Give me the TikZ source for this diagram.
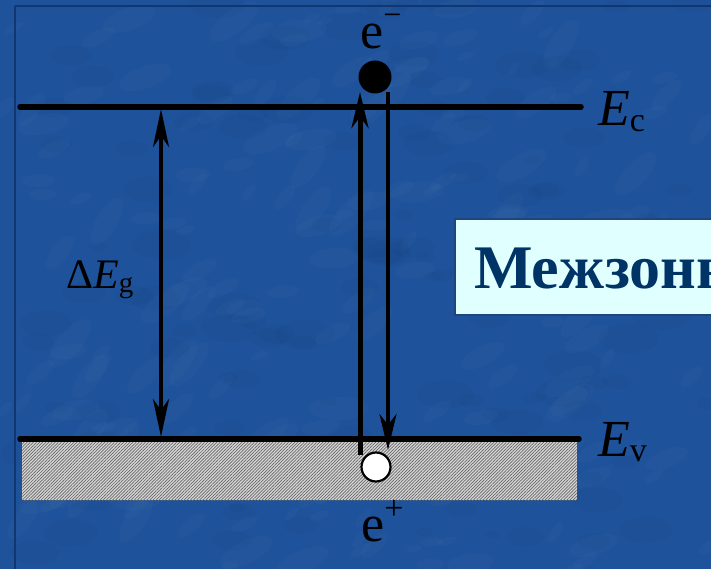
\documentclass[tikz,border=0pt]{standalone}
\usepackage{fontspec}
\setmainfont{Liberation Serif}
\usetikzlibrary{arrows.meta,patterns.meta}
\definecolor{bgblue}{RGB}{30,82,155}
\definecolor{darkline}{RGB}{18,55,112}
\definecolor{boxfill}{RGB}{224,255,255}
\definecolor{boxtext}{RGB}{0,51,102}
\definecolor{boxedge}{RGB}{30,70,125}
\definecolor{hatchbg}{RGB}{215,215,215}
\tikzset{
  level/.style={line width=5.5pt, line cap=round},
  bigarrow/.style={-{Stealth[length=36pt,width=17pt,inset=11pt]}},
  lbl/.style={inner sep=0pt, anchor=base west, font=\fontsize{52}{54}\selectfont},
}
\begin{document}
\begin{tikzpicture}[x=1pt,y=-1pt]
\useasboundingbox (0,0) rectangle (711,569);
\begin{scope}
\clip (0,0) rectangle (711,569);
\fill[bgblue] (0,0) rectangle (711,569);
% subtle texture
\pgfmathsetseed{7}
\foreach \i in {1,...,200}{
  \pgfmathsetmacro{\xx}{rnd*711}
  \pgfmathsetmacro{\yy}{rnd*569}
  \pgfmathsetmacro{\rr}{8+rnd*22}
  \pgfmathsetmacro{\ang}{rnd*60}
  \fill[white, opacity=0.018, rotate around={\ang:(\xx,\yy)}] (\xx,\yy) ellipse [x radius=\rr pt, y radius=0.4*\rr pt];
}
\foreach \i in {1,...,120}{
  \pgfmathsetmacro{\xx}{rnd*711}
  \pgfmathsetmacro{\yy}{rnd*569}
  \pgfmathsetmacro{\rr}{8+rnd*22}
  \fill[black, opacity=0.02] (\xx,\yy) ellipse [x radius=\rr pt, y radius=0.5*\rr pt];
}
% slide frame lines
\draw[darkline, line width=2pt] (15,6) -- (711,6);
\draw[darkline, line width=2pt] (15,6) -- (15,569);

% valence band hatched
\fill[hatchbg] (22,441) rectangle (577,500);
\fill[pattern={Lines[distance=2.2pt,angle=45,line width=0.7pt]}, pattern color=gray!80!black] (22,441) rectangle (577,500);

% levels
\coordinate (c1) at (20,107);
\coordinate (c2) at (581,107);
\coordinate (v1) at (20,439);
\coordinate (v2) at (579,439);
\draw[level] (c1) -- (c2);
\draw[level] (v1) -- (v2);

% band gap arrow
\coordinate (g1) at (161,109);
\coordinate (g2) at (161,437);
\draw[line width=3.8pt, {Stealth[length=38pt,width=16pt,inset=11pt]}-{Stealth[length=38pt,width=16pt,inset=11pt]}] (g1) -- (g2);

% transitions
\coordinate (u1) at (360,455);
\coordinate (u2) at (360,92);
\coordinate (d1) at (388,92);
\coordinate (d2) at (388,450);
\draw[line width=5pt, bigarrow] (u1) -- (u2);
\draw[line width=3.8pt, bigarrow] (d1) -- (d2);

% electron and hole
\fill[black] (375,77) circle [radius=16.5pt];
\draw[black, fill=white, line width=2.2pt] (376,467) circle [radius=14.5pt];

% labels
\node[lbl] (em) at (360,49) {e\raisebox{0.45em}{\fontsize{32}{32}\selectfont −}};
\node[lbl] (ep) at (361,541) {e\raisebox{0.42em}{\fontsize{34}{34}\selectfont +}};
\node[lbl] (Ec) at (598,126) {\textit{E}\raisebox{-0.1em}{\fontsize{34}{34}\selectfont c}};
\node[lbl] (Ev) at (598,456) {\textit{E}\raisebox{-0.1em}{\fontsize{34}{34}\selectfont v}};
\node[lbl, font=\fontsize{42}{44}\selectfont] (dEg) at (66,288) {Δ\textit{E}\raisebox{-0.1em}{\fontsize{29}{29}\selectfont g}};

% text box
\draw[boxedge, fill=boxfill, line width=1.5pt] (455,219) rectangle (760,315);
\node[inner sep=0pt, anchor=base west, text=boxtext, font=\bfseries\fontsize{62}{64}\selectfont] (box) at (474,288) {Межзонная рекомбинация};
\end{scope}
\end{tikzpicture}
\end{document}
